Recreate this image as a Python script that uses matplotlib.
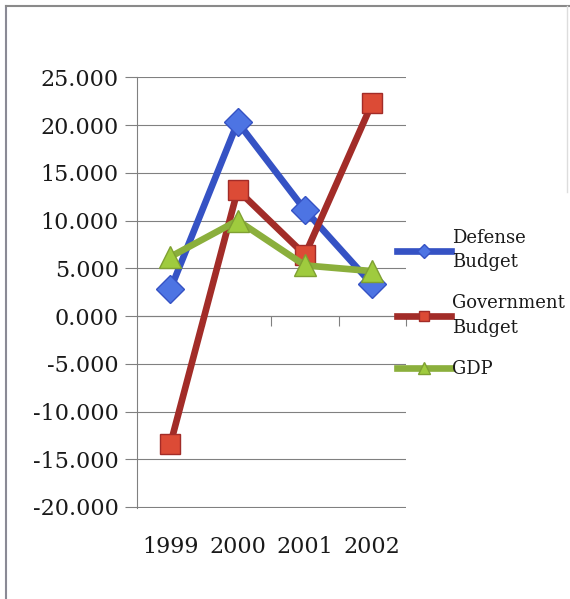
import matplotlib.pyplot as plt
from matplotlib.lines import Line2D

# Values
years = ['1999', '2000', '2001', '2002']
defense_budget = [2.8, 20.3, 11.1, 3.3]
government_budget = [-13.4, 13.2, 6.4, 22.3]
gdp = [6.2, 10.0, 5.3, 4.7]
y_ticks = [25, 20, 15, 10, 5, 0, -5, -10, -15, -20]

plt.rcParams['font.family'] = ['DejaVu Serif']
plt.rcParams['text.color'] = '#1a1a1a'

fig = plt.figure(figsize=(5.7, 5.99), dpi=100)
ax = fig.add_axes([0.240, 0.152, 0.472, 0.719])

x = list(range(len(years)))
ax.plot(x, defense_budget, color='#3552C4', lw=4.8, marker='D', ms=14,
        mfc='#4D74E3', mec='#3552C4', mew=1, label='Defense\nBudget', zorder=3)
ax.plot(x, government_budget, color='#A22C28', lw=4.8, marker='s', ms=15,
        mfc='#DC4B36', mec='#A22C28', mew=1, label='Government\nBudget', zorder=3)
ax.plot(x, gdp, color='#8BAF3C', lw=4.8, marker='^', ms=16,
        mfc='#9FCB3E', mec='#7FA032', mew=1, label='GDP', zorder=4)

ax.set_ylim(-20.1, 25)
ax.set_xlim(-0.5, 3.5)
ax.set_yticks(y_ticks)
ax.set_yticklabels([f'{v:.3f}' for v in y_ticks], fontsize=16, color='#1a1a1a')
ax.yaxis.grid(True, color='#808080', lw=0.8)
ax.set_axisbelow(True)
ax.tick_params(axis='y', length=9, color='#808080', pad=4)

for side in ['top', 'right']:
    ax.spines[side].set_visible(False)
ax.spines['left'].set_color('#808080')
ax.spines['bottom'].set_position(('data', 0))
ax.spines['bottom'].set_color('#808080')
ax.set_xticks([0.5, 1.5, 2.5, 3.5])
ax.set_xticklabels([])
ax.tick_params(axis='x', direction='out', length=7, color='#808080')

secax = ax.secondary_xaxis(0)
secax.set_xticks(x)
secax.set_xticklabels(years, fontsize=16, color='#1a1a1a')
secax.tick_params(length=0, pad=20)
secax.spines['bottom'].set_visible(False)

leg = fig.legend(loc='upper left', bbox_to_anchor=(0.684, 0.630), frameon=False,
                 fontsize=13, handlelength=3.0, handletextpad=0.05,
                 labelspacing=1.27, markerscale=0.5, borderaxespad=0)
for t in leg.get_texts():
    t.set_linespacing(1.47)

# frame of the scanned chart: top and left edges, faint right edge
fig.add_artist(Line2D([0.011, 0.011], [0.0, 0.990], color='#8a8a95', lw=1.5))
fig.add_artist(Line2D([0.011, 1.0], [0.990, 0.990], color='#8a8a8a', lw=1.5))
fig.add_artist(Line2D([0.995, 0.995], [0.68, 0.990], color='#dddddd', lw=1))

fig.savefig('out.png', dpi=100)
